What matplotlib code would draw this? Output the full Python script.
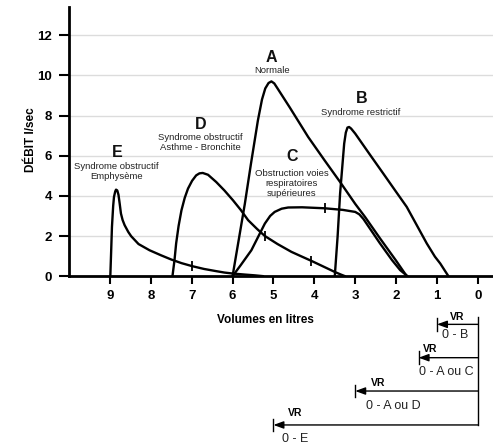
import matplotlib
matplotlib.use("Agg")
import matplotlib.pyplot as plt

plt.rcParams['font.family'] = ['Liberation Sans', 'DejaVu Sans']

# ---- data ----
A_x = [6.0, 5.85, 5.70, 5.55, 5.38, 5.28, 5.2, 5.12, 5.05, 4.98, 4.9, 4.6, 4.15, 3.75, 3.37, 3.0, 2.76, 2.4, 2.0, 1.74]
A_y = [0, 1.8, 3.6, 5.6, 7.76, 8.8, 9.35, 9.62, 9.7, 9.6, 9.35, 8.4, 6.93, 5.77, 4.69, 3.6, 2.95, 1.9, 0.77, 0]

B_x = [3.5, 3.43, 3.37, 3.27, 3.23, 3.19, 3.15, 3.1, 3.0, 2.65, 2.31, 2.0, 1.74, 1.5, 1.25, 1.05, 0.92, 0.8, 0.72]
B_y = [0, 2.0, 4.11, 6.6, 7.15, 7.4, 7.43, 7.35, 7.1, 6.08, 5.1, 4.2, 3.45, 2.56, 1.63, 0.97, 0.63, 0.25, 0]

C_x = [6.0, 5.8, 5.54, 5.21, 5.08, 4.97, 4.8, 4.64, 4.3, 3.74, 3.3, 3.0, 2.9, 2.8, 2.7, 2.4, 2.1, 1.9, 1.72]
C_y = [0, 0.55, 1.29, 2.62, 3.0, 3.2, 3.36, 3.42, 3.43, 3.38, 3.3, 3.2, 3.08, 2.85, 2.55, 1.65, 0.8, 0.3, 0]

D_x = [7.47, 7.42, 7.38, 7.32, 7.25, 7.17, 7.09, 6.99, 6.89, 6.81, 6.73, 6.6, 6.4, 6.2, 5.99,
       5.8, 5.62, 5.4, 5.21, 4.9, 4.56, 4.3, 4.07, 3.8, 3.5, 3.35, 3.25]
D_y = [0, 0.8, 1.63, 2.5, 3.28, 3.9, 4.36, 4.75, 5.02, 5.12, 5.14, 5.05, 4.69, 4.27, 3.78,
       3.3, 2.79, 2.35, 2.0, 1.6, 1.21, 0.97, 0.76, 0.5, 0.21, 0.08, 0]

E_x = [8.99, 8.97, 8.95, 8.92, 8.9, 8.87, 8.85, 8.82, 8.79, 8.76, 8.73, 8.69, 8.64, 8.55, 8.48, 8.3, 8.03,
       7.75, 7.5, 7.25, 6.99, 6.7, 6.4, 6.2, 5.99, 5.7, 5.45, 5.25]
E_y = [0, 1.2, 2.45, 3.5, 3.95, 4.22, 4.31, 4.27, 4.05, 3.6, 3.12, 2.8, 2.54, 2.2, 1.99, 1.6, 1.29,
       1.04, 0.83, 0.65, 0.5, 0.36, 0.25, 0.18, 0.13, 0.08, 0.04, 0]

mark_x = [7.0, 5.21, 4.07, 3.74]
mark_y = [0.5, 2.0, 0.76, 3.38]

curve_letters = ['A', 'B', 'C', 'D', 'E']
curve_names = ['Normale', 'Syndrome restrictif', 'Obstruction voies\nrespiratoires\nsupérieures',
               'Syndrome obstructif\nAsthme - Bronchite', 'Syndrome obstructif\nEmphysème']
letter_pos = [(5.05, 10.9), (2.84, 8.87), (4.54, 5.94), (6.78, 7.56), (8.82, 6.18)]
name_pos = [(5.03, 10.25), (2.86, 8.17), (4.55, 4.63), (6.78, 6.64), (8.84, 5.23)]

x_ticks = [9, 8, 7, 6, 5, 4, 3, 2, 1, 0]
y_ticks = [0, 2, 4, 6, 8, 10, 12]

vr_ends = [1.0, 1.45, 3.0, 5.0]
vr_levels = [-2.40, -4.06, -5.72, -7.41]
vr_labels = ['0 - B', '0 - A ou C', '0 - A ou D', '0 - E']
vr_tag_pos = [(0.50, -2.02), (1.17, -3.62), (2.44, -5.30), (4.46, -6.82)]
vr_lab_pos = [(0.56, -2.94), (0.76, -4.75), (2.08, -6.45), (4.48, -8.11)]

# ---- figure ----
fig = plt.figure(figsize=(4.93, 4.44), dpi=100)
ax = fig.add_axes([0.14, 0.378, 0.86, 0.606])
ax.set_xlim(10, -0.37)
ax.set_ylim(0, 13.4)

for y in y_ticks[1:]:
    ax.axhline(y, color='#dcdcdc', lw=1.0, zorder=0)

lw = 1.7
for xs, ys in [(A_x, A_y), (B_x, B_y), (C_x, C_y), (D_x, D_y), (E_x, E_y)]:
    ax.plot(xs, ys, color='black', lw=lw, solid_joinstyle='round', solid_capstyle='round', zorder=3)
ax.plot(mark_x, mark_y, ls='none', marker='|', ms=7, mew=1.3, color='black', zorder=4)

for L, (lx, ly) in zip(curve_letters, letter_pos):
    ax.text(lx, ly, L, ha='center', va='center', fontsize=11.5, fontweight='bold', color='#111111')
for N, (nx, ny) in zip(curve_names, name_pos):
    ax.text(nx, ny, N, ha='center', va='center', fontsize=6.8, color='#222222', linespacing=1.15)

for s in ['top', 'right']:
    ax.spines[s].set_visible(False)
ax.spines['left'].set_linewidth(2)
ax.spines['bottom'].set_linewidth(2)
ax.set_xticks(x_ticks)
ax.set_xticklabels([str(v) for v in x_ticks], fontweight='bold', fontsize=9.5)
ax.set_yticks(y_ticks)
ax.set_yticklabels([str(v) for v in y_ticks], fontweight='bold', fontsize=9.5)
ax.tick_params(axis='x', length=6, width=1.5, pad=4)
ax.tick_params(axis='y', length=7, width=1.5, pad=5)

fig.text(265 / 493, 1 - 320 / 444, 'Volumes en litres', ha='center', va='center',
         fontsize=8.5, fontweight='bold')
fig.text(31 / 493, 1 - 140 / 444, 'DÉBIT l/sec', ha='center', va='center', rotation=90,
         fontsize=8.5, fontweight='bold')

# ---- VR diagram below the axis ----
ax.plot([0, 0], [-2.04, vr_levels[-1]], color='black', lw=1.0, clip_on=False)
for xe, yl, lab, (tx, ty), (bx, by) in zip(vr_ends, vr_levels, vr_labels, vr_tag_pos, vr_lab_pos):
    ax.annotate('', xy=(xe, yl), xytext=(0, yl), annotation_clip=False,
                arrowprops=dict(arrowstyle='-|>,head_length=0.6,head_width=0.22',
                                color='black', lw=1.0, shrinkA=0, shrinkB=0))
    ax.plot([xe, xe], [yl - 0.32, yl + 0.32], color='black', lw=1.0, clip_on=False)
    ax.text(tx, ty, 'VR', ha='center', va='center', fontsize=7.5, fontweight='bold', clip_on=False)
    ax.text(bx, by, lab, ha='center', va='center', fontsize=9, color='#222222', clip_on=False)

fig.savefig('out.png', dpi=100)
